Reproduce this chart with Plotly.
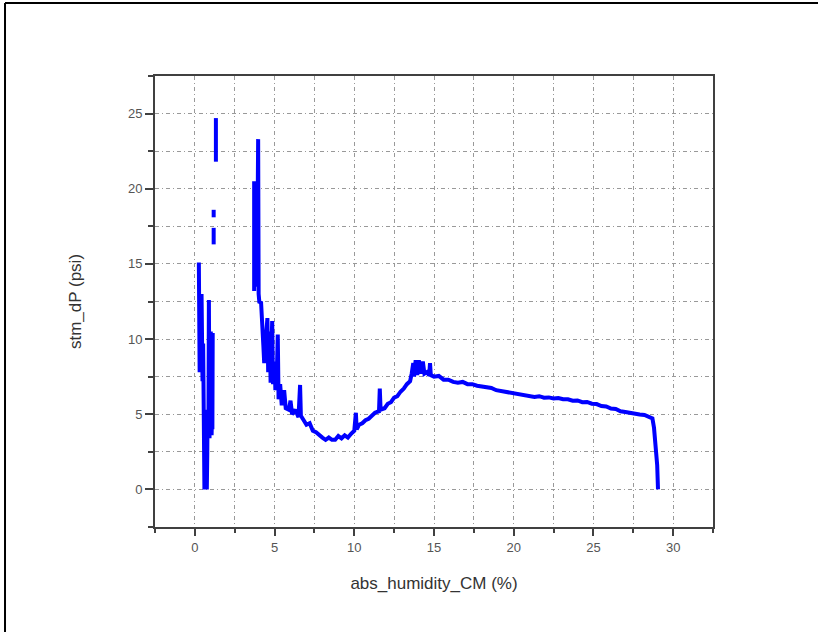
import plotly.graph_objects as go

# ---- data (None = break in the line) ----
hum = [
    0.25, 0.27, 0.30, 0.32, 0.35, 0.38, 0.42, 0.45, 0.48, 0.52, 0.55, 0.58, 0.60, 0.63,
    0.65, 0.68, 0.70, 0.73, 0.75, 0.78, 0.80, 0.85, 0.88, 0.92, 0.95, 0.98, 1.00, 1.05,
    1.08, 1.10, 1.12,
    None,
    1.18, 1.18, None,
    1.18, 1.18, None,
    1.32, 1.32, None,
    3.72, 3.72, 3.76, 3.80, 3.85, 3.90, 3.97, 4.00, 4.05, 4.15, 4.20, 4.30, 4.35, 4.45,
    4.55, 4.60, 4.70, 4.75, 4.85, 4.90, 5.00, 5.05, 5.15, 5.20, 5.25, 5.35, 5.45, 5.60,
    5.70, 5.90, 6.00, 6.10, 6.30, 6.50, 6.60, 6.65, 6.80, 7.00, 7.20, 7.40, 7.60, 7.80,
    8.00, 8.20, 8.40, 8.60, 8.80, 9.00, 9.20, 9.40, 9.60, 9.80, 10.00, 10.10, 10.15,
    10.30, 10.50, 10.70, 10.90, 11.10, 11.30, 11.55, 11.60, 11.65, 11.90, 12.10, 12.30,
    12.50, 12.70, 12.90, 13.10, 13.30, 13.50, 13.60, 13.70, 13.75, 13.85, 13.95, 14.05,
    14.15, 14.30, 14.40, 14.55, 14.70, 14.75, 14.80, 15.00, 15.30, 15.60, 15.90, 16.20,
    16.50, 16.80, 17.10, 17.40, 17.70, 18.00, 18.30, 18.60, 18.90, 19.20, 19.50, 19.80,
    20.10, 20.40, 20.70, 21.00, 21.30, 21.60, 21.90, 22.20, 22.50, 22.80, 23.10, 23.40,
    23.70, 24.00, 24.30, 24.60, 24.90, 25.20, 25.50, 25.80, 26.10, 26.40, 26.70, 27.00,
    27.30, 27.60, 27.90, 28.20, 28.50, 28.70, 28.80, 28.90, 29.00, 29.05,
]
dp = [
    15.1, 12.9, 7.8, 12.5, 8.0, 10.0, 13.0, 9.5, 7.2, 9.7, 5.5, 0.1, 0.0, 4.0,
    0.0, 3.0, 0.0, 2.0, 0.0, 2.5, 5.3, 3.5, 12.6, 3.4, 7.0, 4.0, 10.5, 3.6,
    5.3, 4.0, 10.4,
    None,
    16.3, 17.4, None,
    18.1, 18.6, None,
    21.8, 24.7, None,
    13.2, 20.5, 13.5, 14.0, 19.5, 13.5, 23.3, 13.0, 12.4, 12.5, 10.8, 9.5, 8.4, 9.8,
    11.4, 7.8, 10.5, 7.1, 11.2, 7.0, 8.5, 6.6, 8.0, 10.3, 6.0, 7.0, 5.6, 6.6,
    5.4, 5.3, 5.9, 5.0, 5.3, 4.8, 6.95, 4.9, 4.6, 4.3, 4.4, 3.9, 3.8, 3.6,
    3.45, 3.3, 3.45, 3.3, 3.3, 3.55, 3.4, 3.6, 3.45, 3.7, 3.9, 5.1, 4.0,
    4.3, 4.4, 4.6, 4.7, 4.9, 5.1, 5.2, 6.7, 5.3, 5.4, 5.7, 5.8,
    6.1, 6.2, 6.5, 6.7, 7.0, 7.2, 7.7, 8.4, 7.5, 8.6, 7.6, 8.6,
    7.7, 8.5, 7.7, 7.8, 7.6, 8.4, 7.6, 7.5, 7.55, 7.3, 7.3, 7.15,
    7.1, 7.15, 7.0, 7.0, 6.9, 6.85, 6.75, 6.75, 6.6, 6.55, 6.45, 6.45,
    6.35, 6.35, 6.25, 6.25, 6.15, 6.2, 6.1, 6.12, 6.05, 6.08, 6.0, 6.0,
    5.9, 5.92, 5.8, 5.82, 5.7, 5.68, 5.55, 5.52, 5.38, 5.35, 5.2, 5.15,
    5.08, 5.05, 4.98, 4.95, 4.82, 4.72, 4.1, 3.1, 1.6, 0.0,
]

x_title = "abs_humidity_CM (%)"
y_title = "stm_dP (psi)"
x_ticks = [0, 5, 10, 15, 20, 25, 30]
y_ticks = [0, 5, 10, 15, 20, 25]

fig = go.Figure()
fig.add_trace(go.Scatter(
    x=hum, y=dp, mode="lines", connectgaps=False,
    line=dict(color="#0000FF", width=4), showlegend=False,
    hoverinfo="skip",
))

GRID_DASH = "4px,3px,1px,3px"
GRID_COLOR = "#999999"

axis_common = dict(
    showline=True, linecolor="#404040", linewidth=2, mirror=True,
    ticks="outside", tickcolor="#404040", tickwidth=2,
    showgrid=True, gridcolor=GRID_COLOR, gridwidth=1, griddash=GRID_DASH,
    zeroline=False,
    tickfont=dict(family="Liberation Sans, Arial", size=13, color="#555555"),
    title_font=dict(family="Liberation Sans, Arial", size=17, color="#333333"),
)

fig.update_xaxes(
    **axis_common, range=[-2.5, 32.5], tickvals=x_ticks, ticklen=7,
    title_text=x_title, title_standoff=24,
    minor=dict(dtick=2.5, tick0=0, ticks="outside", ticklen=4, tickcolor="#404040",
               tickwidth=2, showgrid=True, gridcolor=GRID_COLOR, gridwidth=1,
               griddash=GRID_DASH),
)
fig.update_yaxes(
    **axis_common, range=[-2.5, 27.5], tickvals=y_ticks, ticklen=8,
    title_text=y_title, title_standoff=42,
    minor=dict(dtick=2.5, tick0=0, ticks="outside", ticklen=5, tickcolor="#404040",
               tickwidth=2, showgrid=True, gridcolor=GRID_COLOR, gridwidth=1,
               griddash=GRID_DASH),
)

# outer frame (left and top edges of the picture)
fig.add_shape(type="line", xref="paper", yref="paper",
              x0=-0.2688, x1=-0.2688, y0=1.1619, y1=-0.3,
              line=dict(color="black", width=2))
fig.add_shape(type="line", xref="paper", yref="paper",
              x0=-0.2688, x1=1.3, y0=1.1619, y1=1.1619,
              line=dict(color="black", width=2))

fig.update_layout(
    width=818, height=632,
    margin=dict(l=155, r=105, t=76, b=105),
    paper_bgcolor="white", plot_bgcolor="white",
    showlegend=False,
)

fig.write_html(
    "out.html",
    config={"displayModeBar": False},
    post_script="document.body.style.margin='0';document.body.style.overflow='hidden';",
)
